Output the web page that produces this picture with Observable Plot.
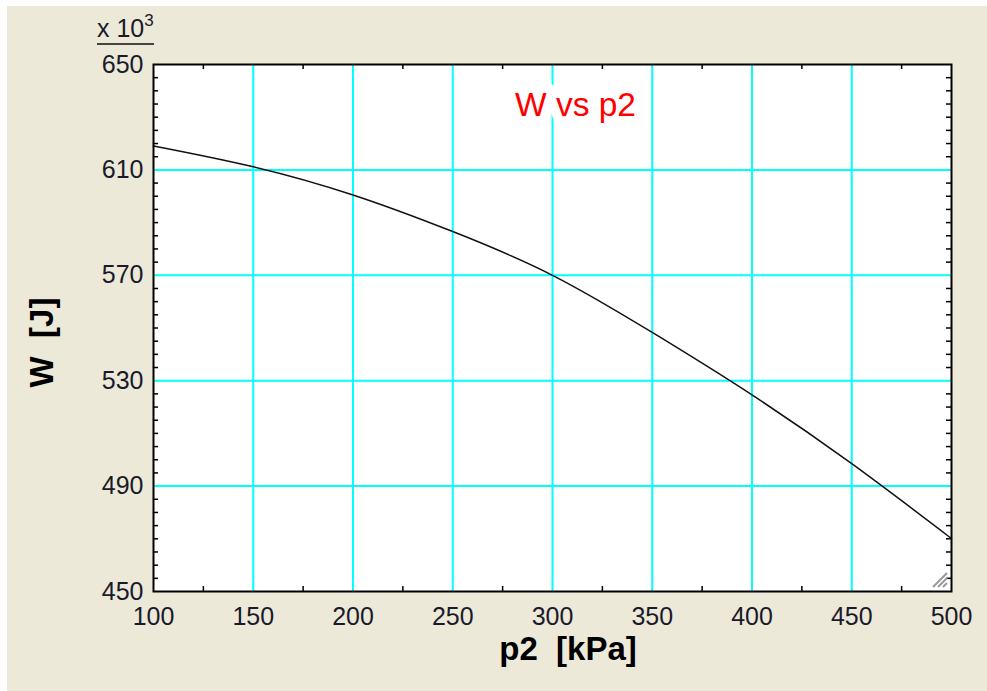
<!DOCTYPE html>
<html><head><meta charset="utf-8">
<script src="https://cdn.jsdelivr.net/npm/d3@7"></script>
<script src="https://cdn.jsdelivr.net/npm/@observablehq/plot@0.6"></script>
<style>
html,body{margin:0;padding:0;background:#fff;}
#wrap{position:absolute;left:7px;top:6px;width:980px;height:685px;background:#ECE9D8;overflow:hidden;}
#wrap svg.plot{position:absolute;left:0;top:0;}
#mult{position:absolute;left:90px;top:10px;width:57px;height:25px;line-height:25px;font-size:25px;font-family:"Liberation Sans",Arial,sans-serif;color:#1a1a2a;border-bottom:2px solid #444;padding-bottom:2px;white-space:nowrap;}
#mult span{font-size:17px;position:relative;top:-11px;}
#wrap #grip{position:absolute;left:922px;top:563px;}
</style></head><body>
<div id="wrap"><div id="mult">x 10<span>3</span></div></div>
<script>
// data
const p2 = [100, 150, 200, 250, 300, 350, 400, 450, 500];           // kPa
const W  = [619100, 611200, 600500, 586600, 570000, 548300, 524600, 498500, 470100]; // J
const xTicks = [100, 150, 200, 250, 300, 350, 400, 450, 500];
const yTicks = [450, 490, 530, 570, 610, 650];  // x 10^3 J
const xGrid = [150, 200, 250, 300, 350, 400, 450];
const yGrid = [490, 530, 570, 610];
const xMinor = [125, 175, 225, 275, 325, 375, 425, 475];
const yMinor = d3.range(455, 650, 5).filter(v => (v - 450) % 40 !== 0);

const Wp = 980, Hp = 685, mL = 146, mR = 36, mT = 58, mB = 100;
const fw = Wp - mL - mR, fh = Hp - mT - mB;
const font = '"Liberation Sans", Arial, sans-serif';
const data = p2.map((x, i) => ({x, y: W[i]}));

const chart = Plot.plot({
  width: Wp, height: Hp,
  marginLeft: mL, marginRight: mR, marginTop: mT, marginBottom: mB,
  style: {background: "transparent", fontFamily: font, color: "#1a1a2a", overflow: "visible"},
  x: {domain: [100, 500]},
  y: {domain: [450000, 650000]},
  marks: [
    Plot.frame({fill: "white"}),
    Plot.ruleX(xGrid, {stroke: "#00FFFF", strokeWidth: 2}),
    Plot.ruleY(yGrid.map(v => v * 1000), {stroke: "#00FFFF", strokeWidth: 2}),
    Plot.ruleX(xMinor, {insetTop: fh - 5, stroke: "#000", strokeWidth: 1.5}),
    Plot.ruleX(xMinor, {insetBottom: fh - 5, stroke: "#000", strokeWidth: 1.5}),
    Plot.ruleY(yMinor.map(v => v * 1000), {insetRight: fw - 5, stroke: "#000", strokeWidth: 1.5}),
    Plot.ruleY(yMinor.map(v => v * 1000), {insetLeft: fw - 5, stroke: "#000", strokeWidth: 1.5}),
    Plot.line(data, {x: "x", y: "y", curve: "natural", stroke: "#111", strokeWidth: 1.5}),
    Plot.text(["W vs p2"], {text: d => d, frameAnchor: "top", dx: 23, dy: 41, lineAnchor: "middle", textAnchor: "middle",
      fill: "#FF0000", stroke: "white", strokeWidth: 20, fontSize: 33.5}),
    Plot.frame({stroke: "#000", strokeWidth: 2}),
    Plot.axisX(xTicks, {tickSize: 0, tickPadding: 16, fontSize: 25, label: null}),
    Plot.axisY(yTicks.map(v => v * 1000), {tickSize: 0, tickPadding: 10, fontSize: 25, tickFormat: d => d / 1000, label: null}),
    Plot.text(["p2\u00a0 [kPa]"], {text: d => d, frameAnchor: "bottom", dx: 15.5, dy: 57.5, lineAnchor: "middle", textAnchor: "middle",
      fontSize: 33, fontWeight: "bold", fill: "#000"}),
    Plot.text(["W\u00a0 [J]"], {text: d => d, frameAnchor: "left", dx: -111, dy: 14.5, rotate: -90, lineAnchor: "middle", textAnchor: "middle",
      fontSize: 33, fontWeight: "bold", fill: "#000"})
  ]
});
const wrap = document.getElementById("wrap");
wrap.insertBefore(chart, wrap.firstChild);

// window resize grip decoration
const g = d3.select(wrap).append("svg").attr("id", "grip").attr("width", 20).attr("height", 20);
[[4, 18, 18, 4], [9, 18, 18, 9], [14, 18, 18, 14]].forEach(([x1, y1, x2, y2]) => {
  g.append("line").attr("x1", x1).attr("y1", y1).attr("x2", x2).attr("y2", y2)
    .attr("stroke", "#999").attr("stroke-width", 2);
});
</script>
</body></html>
